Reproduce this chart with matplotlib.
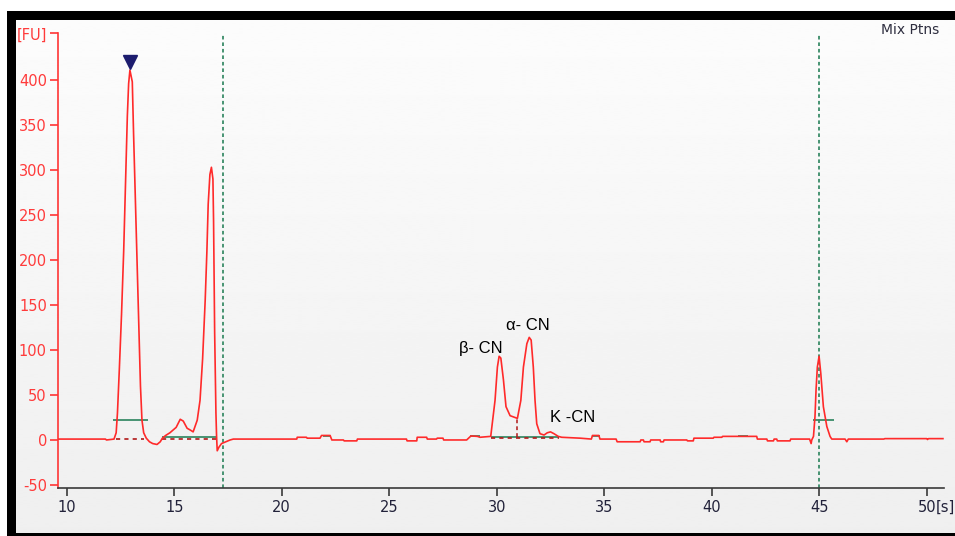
import numpy as np
import matplotlib
matplotlib.use('Agg')
import matplotlib.pyplot as plt
from matplotlib.patches import Rectangle

# ---------------- data ----------------
time_s = [9.6, 11.8, 11.85, 12.2, 12.3, 12.36, 12.45, 12.55, 12.65, 12.74, 12.82, 12.88,
          12.94, 13.05, 13.11, 13.18, 13.27, 13.35, 13.43, 13.5, 13.58, 13.7, 13.85,
          14.0, 14.2, 14.35, 14.45, 14.6, 14.8, 15.09, 15.28, 15.42, 15.6, 15.75, 15.88,
          16.07, 16.2, 16.32, 16.44, 16.52, 16.58, 16.66, 16.73, 16.8, 16.83, 16.88,
          16.94, 16.97, 17.0, 17.08, 17.2, 17.4, 17.6, 17.75,
          19.92, 20.7, 20.72, 21.15, 21.18, 21.78, 21.85, 22.25, 22.33, 22.87, 22.9,
          23.49, 23.52, 25.8, 25.83, 26.28, 26.3, 26.74, 26.77, 27.2, 27.23, 27.5, 27.53,
          28.6, 28.8, 29.1, 29.22, 29.72,
          29.92, 30.03, 30.11, 30.19, 30.31, 30.43, 30.62, 30.85, 30.96,
          31.12, 31.24, 31.4, 31.51, 31.6, 31.7, 31.78, 31.86, 32.01, 32.2, 32.35, 32.5,
          32.66, 32.86, 33.02, 33.88, 34.4, 34.45, 34.75, 34.8, 35.55, 35.6,
          36.67, 36.7, 36.82, 36.85, 37.13, 37.16, 37.6, 37.62, 37.75, 37.78, 38.84, 38.87,
          39.14, 39.17, 40.07, 40.1, 40.47, 40.5, 42.09, 42.12, 42.56, 42.59, 42.87, 42.9,
          43.02, 43.05, 43.64, 43.67, 44.55, 44.62, 44.65, 44.73, 44.8, 44.85, 44.91,
          44.99, 45.07, 45.19, 45.35, 45.5, 45.58, 46.2, 46.28, 46.35, 48.0, 48.05,
          50.0, 50.03, 50.08, 50.75]
fu = [1, 1, 0, 1, 8, 30, 80, 140, 210, 290, 360, 396,
      411, 398, 340, 280, 205, 130, 60, 22, 8, 2, -2,
      -4, -5, -2, 2, 5, 8, 14, 23, 21, 13, 11, 9,
      22, 44, 90, 155, 210, 262, 295, 303, 290, 243, 120,
      30, 4, -12, -8, -4, -2, 0, 1,
      1, 1, 3, 3, 2, 2, 5, 5, 0, 0, -1,
      -1, 1, 1, -1, -1, 3, 3, 1, 1, 2, 2, 0,
      0, 4.5, 4, 3, 4,
      44, 81, 93, 91, 67, 37, 27, 25, 24,
      44, 81, 107, 114, 111, 81, 44, 18, 7, 5.5, 8, 9,
      7, 4, 3, 2, 1, 5, 5, 1, 1, -2,
      -2, 0, 0, -2, -2, 0, 0, -2, -2, 0, 0, -1,
      -1, 2, 2, 3, 3, 4, 4, 1, 1, -1, -1, 1,
      1, -1, -1, 1, 1, -4, 0, 4, 26, 56, 81,
      93, 74, 37, 15, 4, 1, 1, -2, 1, 1, 1.5,
      1.5, 0.5, 1.5, 1.5]

# peak marker (triangle) on the first (lower marker) peak
marker_time = [12.94]
marker_fu = [420]

# vertical marker lines (lower / upper marker)
marker_lines = [17.28, 45.0]

# peak-width (green) segments: start, end, level
width_start = [12.16, 14.42, 29.72, 44.72, 21.9, 28.75, 34.45, 41.2]
width_end = [13.80, 16.98, 32.90, 45.70, 22.25, 29.20, 34.80, 41.70]
width_level = [22, 3.7, 3.7, 22, 4.5, 4.5, 4.5, 4]

# baseline (dashed dark red) segments: start, end, level
base_start = [12.30, 14.42, 29.72]
base_end = [13.60, 16.98, 32.90]
base_level = [1.0, 1.5, 2.5]

# peak split line
split_time = [30.96]
split_low = [3]
split_high = [24]

# peak labels
label_text = ['β- CN', 'α- CN', 'K -CN']
label_time = [29.27, 31.46, 33.55]
label_fu = [102, 127, 25.5]

x_ticks = [10, 15, 20, 25, 30, 35, 40, 45, 50]
y_ticks = [-50, 0, 50, 100, 150, 200, 250, 300, 350, 400]

# ---------------- figure ----------------
W, H = 955, 536
fig = plt.figure(figsize=(W / 100, H / 100), dpi=100)
fig.patch.set_facecolor('white')

bg = fig.add_axes([0, 0, 1, 1], zorder=0)
grad = np.linspace(0.988, 0.937, 256).reshape(-1, 1)
bg.imshow(grad, cmap='gray', vmin=0, vmax=1, extent=(16, W, 534, 20), aspect='auto',
          interpolation='bilinear')
bg.add_patch(Rectangle((7, 11), 9, 525, color='black', lw=0))
bg.add_patch(Rectangle((7, 11), W - 7, 9, color='black', lw=0))
bg.add_patch(Rectangle((7, 533), W - 7, 3, color='black', lw=0))
bg.set_xlim(0, W)
bg.set_ylim(H, 0)
bg.axis('off')

left_px, right_px, top_px, bot_px = 58, 944, 33.3, 488.3
ax = fig.add_axes([left_px / W, 1 - bot_px / H, (right_px - left_px) / W,
                   (bot_px - top_px) / H], zorder=1)
ax.patch.set_alpha(0)

ymin, ymax = -53.7, 451.9
ax.set_xlim(9.595, 50.80)
ax.set_ylim(ymin, ymax)

red = '#FF2A2A'
green = '#3A8C68'
darkred = '#B01818'

# marker lines
ax.vlines(marker_lines, ymin, 450, colors=green, linestyles=(0, (2.0, 1.6)), lw=1.3, zorder=2)

# widths and baselines
for s, e, l in zip(width_start, width_end, width_level):
    ax.plot([s, e], [l, l], color=green, lw=1.3, zorder=3, solid_capstyle='butt')
for s, e, l in zip(base_start, base_end, base_level):
    ax.plot([s, e], [l, l], color=darkred, lw=1.2, ls=(0, (2.5, 2.5)), zorder=3)
for t, lo, hi in zip(split_time, split_low, split_high):
    ax.plot([t, t], [lo, hi], color=darkred, lw=1.1, ls=(0, (2.5, 2.0)), zorder=3)

# trace
ax.plot(time_s, fu, color=red, lw=1.2, zorder=4)

# peak marker
ax.plot(marker_time, marker_fu, marker='v', ms=10, color='#1C1C6E', ls='none', zorder=5)

# labels
for txt, t, v in zip(label_text, label_time, label_fu):
    ax.text(t, v, txt, ha='center', va='center', fontsize=12, color='black',
            family=['Liberation Sans', 'DejaVu Sans'], zorder=6)

# axes styling
for side in ['top', 'right']:
    ax.spines[side].set_visible(False)
ax.spines['left'].set_color('#FF3535')
ax.spines['left'].set_linewidth(1.2)
ax.spines['bottom'].set_color('#3A3A3A')
ax.spines['bottom'].set_linewidth(1.2)

ax.set_yticks(y_ticks + [ymax])
ax.set_yticklabels([str(v) for v in y_ticks] + ['[FU]'])
ax.set_xticks(x_ticks)
ax.set_xticklabels([str(v) for v in x_ticks])
ax.tick_params(axis='y', colors='#FF3535', labelcolor='#FF3B3B', length=6, width=1.2,
               pad=2, labelsize=10.5)
ax.tick_params(axis='x', colors='#3A3A3A', labelcolor='#22223A', length=6, width=1.2,
               pad=2.5, labelsize=10.5)

ax.annotate('[s]', xy=(50, 0), xycoords=('data', 'axes fraction'),
            xytext=(6.8, -8.5), textcoords='offset points', ha='left', va='top',
            fontsize=10.5, color='#22223A', annotation_clip=False)

fig.text(939 / W, 1 - 29.5 / H, 'Mix Ptns', ha='right', va='center', fontsize=10,
         color='#2F2F40')

fig.savefig('out.png', dpi=100)
